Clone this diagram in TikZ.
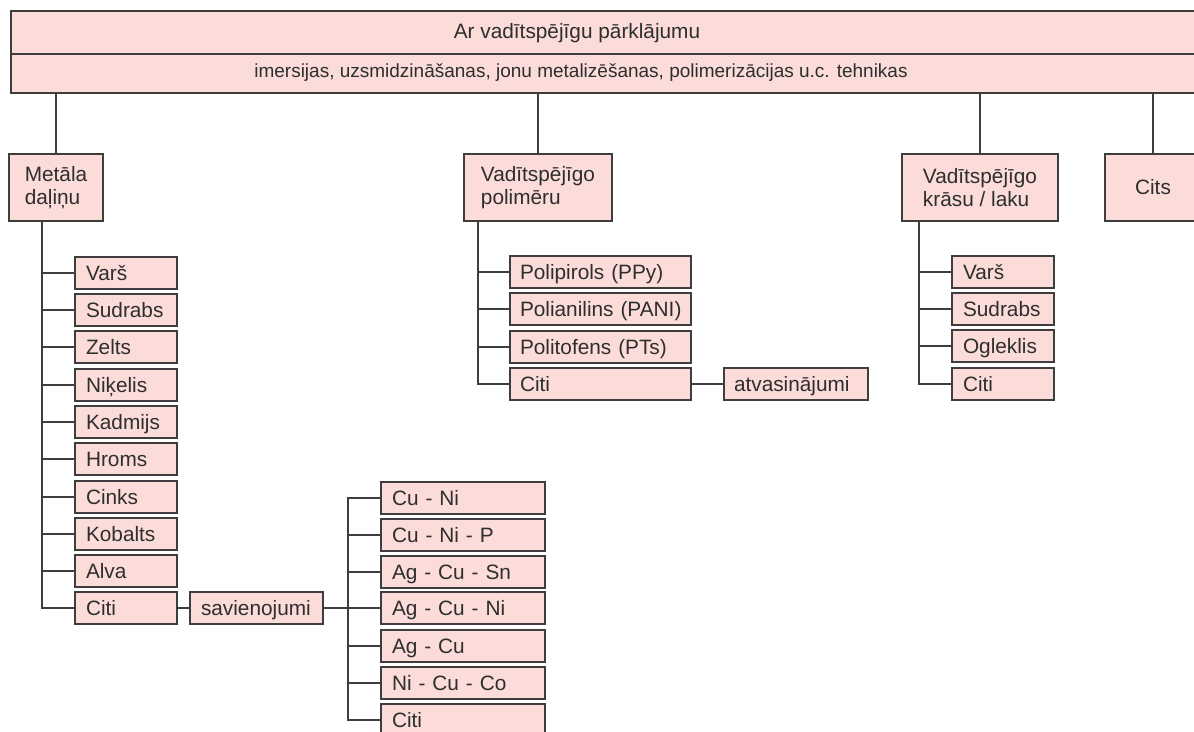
\documentclass[tikz,border=0pt]{standalone}
\usepackage{fontspec}
\setmainfont{Liberation Sans}
\definecolor{boxfill}{HTML}{FBDCD9}
\definecolor{edge}{HTML}{3E3E3E}
\definecolor{ink}{HTML}{2E2E2E}
\tikzset{
  frame/.style={draw=edge, fill=boxfill, line width=2pt, inner sep=0pt,
    anchor=north west, text=ink},
  band/.style={frame, minimum width=1205pt},
  headtext/.style={inner sep=0pt, text=ink, font=\fontsize{20.8}{24}\selectfont},
  subtext/.style={inner sep=0pt, text=ink, font=\fontsize{19}{23}\selectfont},
  group/.style={frame, minimum height=67pt, align=left,
    font=\fontsize{20.8}{23.5}\selectfont},
  leaf/.style={frame, minimum height=32pt, inner xsep=11pt, align=left,
    text width=#1, text height=14pt, text depth=0pt,
    font=\fontsize{20.8}{24}\selectfont},
  conn/.style={draw=edge, line width=2pt}
}
\begin{document}
\begin{tikzpicture}[x=1pt,y=-1pt]
\useasboundingbox (0,0) rectangle (1194,731);
\fill[white] (0,0) rectangle (1194,731);
\clip (0,0) rectangle (1194,731);

% header band
\node[band, minimum height=43pt] (hdr) at (10,10) {};
\node[band, minimum height=39pt] (sub) at (10,53) {};
\node[headtext] (hdrtxt) at (577,33) {Ar vadītspējīgu pārklājumu};
\node[subtext] (subtxt) at (581,73) {imersijas, uzsmidzināšanas, jonu metalizēšanas, polimerizācijas u.c. tehnikas};

% main groups
\node[group, minimum width=94pt] (gmet) at (8,153) {Metāla\\daļiņu};
\node[group, minimum width=148pt] (gpol) at (463,153) {Vadītspējīgo\\polimēru};
\node[group, minimum width=156pt] (gkra) at (901,153) {Vadītspējīgo\\krāsu / laku};
\node[group, minimum width=96pt, align=center] (gcit) at (1104,153) {Cits};

\foreach \g in {gmet,gpol,gkra,gcit}
  \draw[conn] (\g.north) -- (\g.north |- sub.south);

% metal particles
\foreach \n/\t/\y in {m1/Varš/256, m2/Sudrabs/293, m3/Zelts/330, m4/Niķelis/368,
    m5/Kadmijs/405, m6/Hroms/442, m7/Cinks/480, m8/Kobalts/517, m9/Alva/554,
    m10/Citi/591}
  \node[leaf=80pt] (\n) at (74,\y) {\t};
\coordinate (tmet) at (42,220);
\draw[conn] (tmet) |- (m10.west);
\foreach \n in {m1,m2,m3,m4,m5,m6,m7,m8,m9}
  \draw[conn] (\n.west) -- (\n.west -| tmet);

% compounds
\node[leaf=111pt] (sav) at (189,591) {savienojumi};
\draw[conn] (m10.east) -- (sav.west);
\foreach \n/\t/\y in {a1/Cu - Ni/481, a2/Cu - Ni - P/518, a3/Ag - Cu - Sn/555,
    a4/Ag - Cu - Ni/591, a5/Ag - Cu/629, a6/Ni - Cu - Co/666, a7/Citi/703}
  \node[leaf=142pt] (\n) at (380,\y) {\t};
\coordinate (tall) at (348,481);
\draw[conn] (a1.west) -- (a1.west -| tall) -- (a7.west -| tall) -- (a7.west);
\foreach \n in {a2,a3,a4,a5,a6}
  \draw[conn] (\n.west) -- (\n.west -| tall);
\draw[conn] (sav.east) -- (sav.east -| tall);

% conductive polymers
\foreach \n/\t/\y in {p1/Polipirols (PPy)/255, p2/Polianilins~(PANI)/292,
    p3/Politofens (PTs)/330, p4/Citi/367}
  \node[leaf=161pt, inner xsep=10pt] (\n) at (509,\y) {\t};
\coordinate (tpol) at (478,220);
\draw[conn] (tpol) |- (p4.west);
\foreach \n in {p1,p2,p3}
  \draw[conn] (\n.west) -- (\n.west -| tpol);
\node[leaf=124pt, inner xsep=10pt] (atv) at (723,367) {atvasinājumi};
\draw[conn] (p4.east) -- (atv.west);

% conductive paints / lacquers
\foreach \n/\t/\y in {k1/Varš/255, k2/Sudrabs/292, k3/Ogleklis/329, k4/Citi/367}
  \node[leaf=80pt] (\n) at (951,\y) {\t};
\coordinate (tkra) at (919,220);
\draw[conn] (tkra) |- (k4.west);
\foreach \n in {k1,k2,k3}
  \draw[conn] (\n.west) -- (\n.west -| tkra);
\end{tikzpicture}
\end{document}
